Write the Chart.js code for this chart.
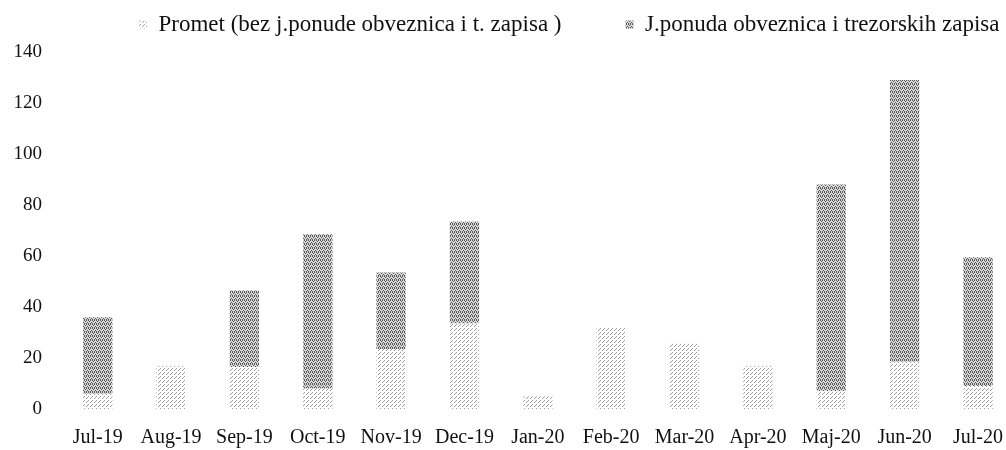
<!DOCTYPE html>
<html>
<head>
<meta charset="utf-8">
<script src="https://cdn.jsdelivr.net/npm/chart.js@4"></script>
<style>
  html, body { margin: 0; padding: 0; background: #fff; overflow: hidden; }
  #wrap { width: 1020px; height: 450px; }
</style>
</head>
<body>
<div id="wrap"><canvas id="chart"></canvas></div>
<script>
// podaci (mil. KM), ocitano sa grafika
const months = ['Jul-19', 'Aug-19', 'Sep-19', 'Oct-19', 'Nov-19', 'Dec-19', 'Jan-20',
                'Feb-20', 'Mar-20', 'Apr-20', 'Maj-20', 'Jun-20', 'Jul-20'];
const promet = [6, 17, 16.5, 8, 23.5, 33.5, 5, 32, 26, 17, 7, 18.5, 9];
const jPonuda = [30, 0, 30, 60.5, 30, 40, 0, 0, 0, 0, 81, 110.5, 50.5];
const yTicks = [0, 20, 40, 60, 80, 100, 120, 140];

const canvas = document.getElementById('chart');
const ctx = canvas.getContext('2d');

// tackasti uzorak kao na skeniranom grafiku
function dotPattern(bg, dot, cells) {
  const tile = document.createElement('canvas');
  tile.width = 4; tile.height = 4;
  const g = tile.getContext('2d');
  g.fillStyle = bg;
  g.fillRect(0, 0, 4, 4);
  g.fillStyle = dot;
  cells.forEach(([x, y]) => g.fillRect(x, y, 1, 1));
  return ctx.createPattern(tile, 'repeat');
}

const lightFill = dotPattern('#ffffff', '#a0a0a0', [[0, 0], [2, 2], [3, 1]]);
const darkFill = dotPattern('#d6d6d6', '#5a5a5a', [[0, 0], [2, 0], [1, 1], [3, 2], [0, 3], [2, 3]]);

// legenda: veliki razmak izmedju stavki, jedan red, mala visina
const legendTweak = {
  id: 'legendTweak',
  beforeInit(chart) {
    const lg = chart.legend;
    const fit = lg.fit;
    lg.fit = function () {
      const mw = this.maxWidth;
      this.maxWidth = 2000;
      fit.call(this);
      this.maxWidth = mw;
      this.width = mw;
      this.height = 38;
    };
    const draw = lg.draw;
    lg.draw = function () {
      const t = this.top, l = this.left, r = this.right;
      this.top = t - 65;
      this.left = l + 72;
      this.right = r + 300;
      draw.call(this);
      this.top = t;
      this.left = l;
      this.right = r;
    };
  }
};

const font = { family: "'Liberation Serif', 'Times New Roman', serif" };

new Chart(canvas, {
  type: 'bar',
  data: {
    labels: months,
    datasets: [
      { label: 'Promet (bez j.ponude obveznica i t. zapisa )', data: promet, backgroundColor: lightFill },
      { label: 'J.ponuda obveznica i trezorskih zapisa', data: jPonuda, backgroundColor: darkFill }
    ]
  },
  options: {
    responsive: true,
    maintainAspectRatio: false,
    animation: false,
    layout: { padding: { left: 3, top: 14, right: 0, bottom: 0 } },
    datasets: { bar: { barPercentage: 0.4, categoryPercentage: 1 } },
    plugins: {
      tooltip: { enabled: false },
      legend: {
        position: 'top',
        align: 'start',
        labels: {
          color: '#111',
          font: { ...font, size: 23 },
          boxWidth: 8,
          boxHeight: 8,
          padding: 64
        }
      }
    },
    scales: {
      x: {
        stacked: true,
        afterFit: axis => { axis.height = 41; },
        grid: { display: false, drawTicks: false },
        border: { display: false },
        ticks: { color: '#111', font: { ...font, size: 20 }, padding: 17, maxRotation: 0, autoSkip: false }
      },
      y: {
        stacked: true,
        min: 0,
        max: 140,
        afterBuildTicks: axis => { axis.ticks = yTicks.map(v => ({ value: v })); },
        afterFit: axis => { axis.width = 58; },
        grid: { display: false, drawTicks: false },
        border: { display: false },
        ticks: { color: '#111', font: { ...font, size: 19 }, padding: 19 }
      }
    }
  },
  plugins: [legendTweak]
});
</script>
</body>
</html>
